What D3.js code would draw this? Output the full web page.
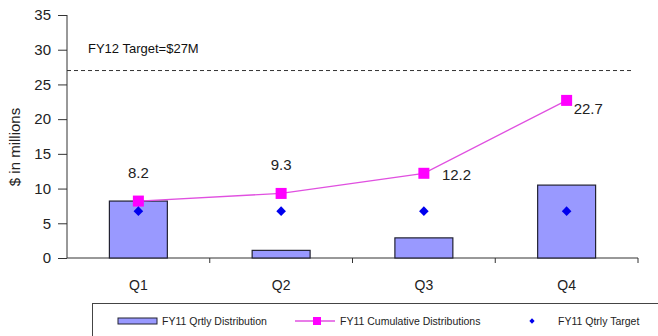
<!DOCTYPE html>
<html><head><meta charset="utf-8">
<script src="https://cdn.jsdelivr.net/npm/d3@7"></script>
<style>
body{margin:0;background:#fff;}
svg{display:block;font-family:"Liberation Sans",Arial,sans-serif;}
</style></head>
<body><svg id="c" width="658" height="336"></svg>
<script>
const categories = ["Q1","Q2","Q3","Q4"];
const qtrlyDistribution = [8.2, 1.1, 2.9, 10.5];
const cumulativeDistributions = [8.2, 9.3, 12.2, 22.7];
const qtrlyTarget = [6.75, 6.75, 6.75, 6.75];
const fy12Target = 27;
const yTicks = [0,5,10,15,20,25,30,35];
const seriesNames = ["FY11 Qrtly Distribution","FY11 Cumulative Distributions","FY11 Qtrly Target"];

(function(){
const svg = d3.select("#c");
const pL = 67, pR = 638, pT = 15, pB = 258;
const x = d3.scaleBand().domain(categories).range([pL, pR]).paddingInner(0.594).paddingOuter(0.297);
const y = d3.scaleLinear().domain([0,35]).range([pB, pT]);
const step = x.step();
const cx = d => x(d) + x.bandwidth()/2;

// y axis
const yAxis = svg.append("g").attr("transform",`translate(${pL},0)`)
  .call(d3.axisLeft(y).tickValues(yTicks).tickSize(9).tickPadding(7));
yAxis.select(".domain").attr("stroke","#333").attr("d",`M0,${pT}V${pB}`);
yAxis.selectAll(".tick line").attr("stroke","#333");
yAxis.selectAll(".tick text").attr("font-size","15px").attr("fill","#222").attr("font-family","Liberation Sans, Arial, sans-serif");

// x axis
const xg = svg.append("g").attr("transform",`translate(0,${pB})`);
xg.append("line").attr("x1",pL).attr("x2",pR).attr("stroke","#333");
categories.forEach((c,i)=>{
  const bx = x.range()[0] + step*(i+1);
  xg.append("line").attr("x1",bx).attr("x2",bx).attr("y1",0).attr("y2",5).attr("stroke","#333");
  xg.append("text").attr("x",cx(c)).attr("y",32).attr("text-anchor","middle")
    .attr("font-size","14px").attr("fill","#222").text(c);
});

// y title
svg.append("text").attr("transform",`translate(20,147) rotate(-90)`).attr("text-anchor","middle")
  .attr("font-size","15px").attr("fill","#222").text("$ in millions");

// target line
svg.append("line").attr("x1",pL).attr("x2",634).attr("y1",y(fy12Target)).attr("y2",y(fy12Target))
  .attr("stroke","#333").attr("stroke-dasharray","4,3");
svg.append("text").attr("x",88).attr("y",53).attr("font-size","13px").attr("fill","#111")
  .text("FY12 Target=$"+fy12Target+"M");

// bars
svg.selectAll("rect.bar").data(qtrlyDistribution).join("rect").attr("class","bar")
  .attr("x",(d,i)=>x(categories[i])).attr("width",x.bandwidth())
  .attr("y",d=>y(d)).attr("height",d=>y(0)-y(d))
  .attr("fill","#9999ff").attr("stroke","#222233").attr("stroke-width",1.2);

// cumulative line
const line = d3.line().x((d,i)=>cx(categories[i])).y(d=>y(d));
svg.append("path").datum(cumulativeDistributions).attr("d",line)
  .attr("fill","none").attr("stroke","#e050e0").attr("stroke-width",1.3);
svg.selectAll("rect.sq").data(cumulativeDistributions).join("rect").attr("class","sq")
  .attr("x",(d,i)=>cx(categories[i])-5.5).attr("y",d=>y(d)-5.5).attr("width",11).attr("height",11)
  .attr("fill","#ff00ff");

// diamonds (rotated squares)
const dia = d3.symbol().type(d3.symbolSquare).size(46);
svg.selectAll("path.dm").data(qtrlyTarget).join("path").attr("class","dm")
  .attr("d",dia).attr("transform",(d,i)=>`translate(${cx(categories[i])},${y(d)}) rotate(45)`)
  .attr("fill","#0000ee");

// data labels
cumulativeDistributions.forEach((v,i)=>{
  const px = cx(categories[i]), py = y(v);
  const t = svg.append("text").attr("font-size","15px").attr("fill","#222").text(v.toFixed(1));
  if(i<2){ t.attr("x",px).attr("y",py-23).attr("text-anchor","middle"); }
  else if(i===2){ t.attr("x",px+18).attr("y",py+7); }
  else { t.attr("x",px+7).attr("y",py+14); }
});

// legend
svg.append("rect").attr("x",92.5).attr("y",303.5).attr("width",600).attr("height",60)
  .attr("fill","#fff").attr("stroke","#444");
const ly = 321;
svg.append("rect").attr("x",118).attr("y",ly-3).attr("width",39).attr("height",6)
  .attr("fill","#9999ff").attr("stroke","#222233");
svg.append("text").attr("x",162).attr("y",ly+4).attr("font-size","10.5px").attr("fill","#222").text(seriesNames[0]);
svg.append("line").attr("x1",295).attr("x2",335).attr("y1",ly).attr("y2",ly).attr("stroke","#e050e0").attr("stroke-width",1.3);
svg.append("rect").attr("x",313).attr("y",ly-4).attr("width",8).attr("height",8).attr("fill","#ff00ff");
svg.append("text").attr("x",340).attr("y",ly+4).attr("font-size","10.5px").attr("fill","#222").text(seriesNames[1]);
svg.append("path").attr("d",d3.symbol().type(d3.symbolSquare).size(14)).attr("transform",`translate(532,${ly}) rotate(45)`).attr("fill","#0000ee");
svg.append("text").attr("x",558).attr("y",ly+4).attr("font-size","10.5px").attr("fill","#222").text(seriesNames[2]);
})();
</script></body></html>
